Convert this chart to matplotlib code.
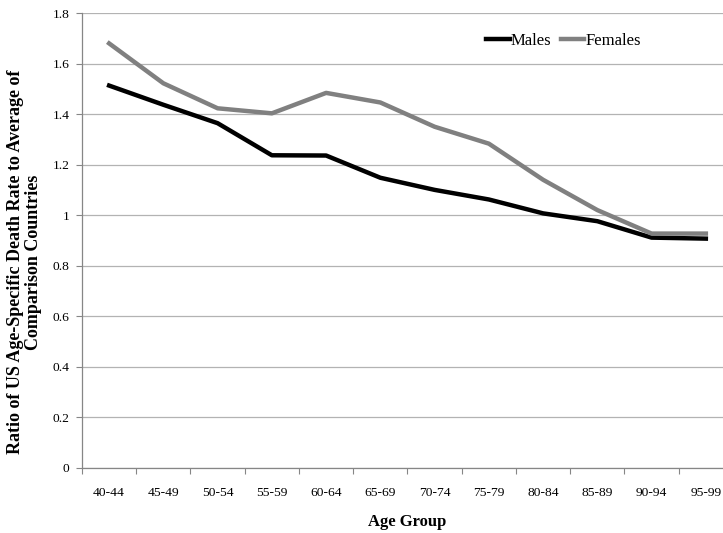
import matplotlib
matplotlib.use('Agg')
import matplotlib.pyplot as plt
import numpy as np
from matplotlib.ticker import FixedLocator

age_groups = ['40-44', '45-49', '50-54', '55-59', '60-64', '65-69',
              '70-74', '75-79', '80-84', '85-89', '90-94', '95-99']
males = [1.514, 1.438, 1.365, 1.238, 1.237, 1.149, 1.101, 1.063, 1.008, 0.977, 0.912, 0.908]
females = [1.681, 1.523, 1.424, 1.404, 1.485, 1.447, 1.351, 1.284, 1.141, 1.021, 0.928, 0.928]
y_ticks = [0, 0.2, 0.4, 0.6, 0.8, 1.0, 1.2, 1.4, 1.6, 1.8]
y_tick_labels = ['0', '0.2', '0.4', '0.6', '0.8', '1', '1.2', '1.4', '1.6', '1.8']

plt.rcParams['font.family'] = ['Liberation Serif', 'DejaVu Serif']

fig = plt.figure(figsize=(7.23, 5.33), dpi=100)
ax = fig.add_axes([0.1134, 0.122, 0.9004, 0.853])

x = np.arange(len(age_groups))
ax.plot(x, males, color='black', lw=3.2, label='Males', solid_joinstyle='round')
ax.plot(x, females, color='#808080', lw=3.2, label='Females', solid_joinstyle='round')

ax.set_xlim(-0.5, len(age_groups) - 0.5)
ax.set_ylim(0, 1.8)
ax.set_yticks(y_ticks)
ax.set_yticklabels(y_tick_labels)
ax.set_xticks(x)
ax.set_xticklabels(age_groups)
# tick marks sit between categories, labels in the middle
ax.xaxis.set_minor_locator(FixedLocator(np.arange(-0.5, len(age_groups), 1)))
ax.tick_params(axis='x', which='major', length=0, pad=14, labelsize=9.7)
ax.tick_params(axis='x', which='minor', length=4, color='#868686', width=0.8)
ax.tick_params(axis='y', length=4, color='#868686', width=0.8, pad=5, labelsize=9.7)

ax.grid(axis='y', color='#b3b3b3', lw=0.9)
ax.set_axisbelow(True)
for s in ['top', 'right']:
    ax.spines[s].set_visible(False)
for s in ['left', 'bottom']:
    ax.spines[s].set_color('#868686')
    ax.spines[s].set_linewidth(0.9)

ax.legend(loc='upper left', bbox_to_anchor=(0.598, 0.99), ncol=2, frameon=False,
          prop={'family': 'Liberation Serif', 'size': 12},
          handlelength=1.4, handletextpad=0.05, columnspacing=0.6)

fig.text(0.034, 0.508, 'Ratio of US Age-Specific Death Rate to Average of\nComparison Countries',
         rotation=90, ha='center', va='center', multialignment='center',
         fontsize=13, fontweight='bold', linespacing=1.12)
fig.text(0.563, 0.021, 'Age Group', ha='center', va='center', fontsize=12, fontweight='bold')

fig.savefig('out.png', dpi=100)
